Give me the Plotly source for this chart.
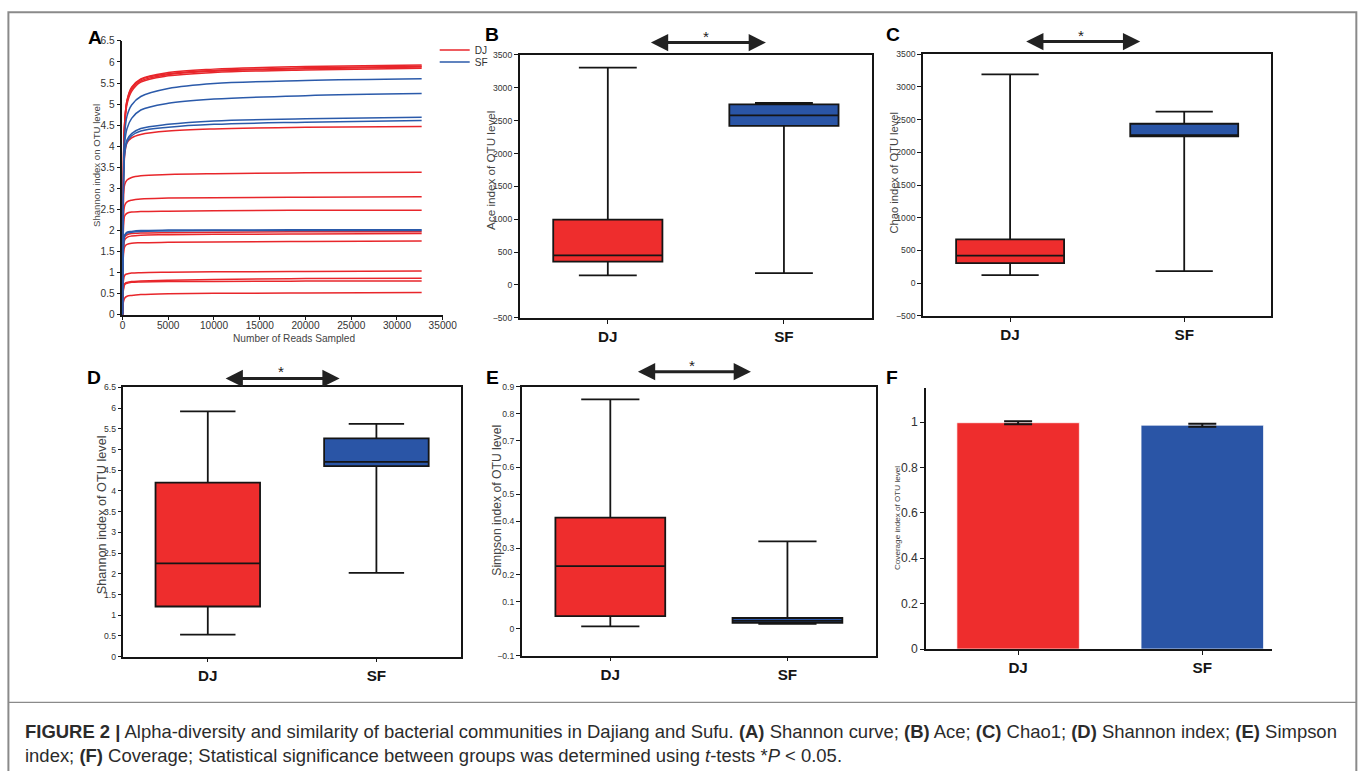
import plotly.graph_objects as go

# Layout canvas (slightly larger than the window; positions below are given in
# target-picture pixels and converted through px/py)
LW, LH = 1380, 790
SX, OX, SY, OY = 0.987, 2.6, 0.9825, 5.2
K = 1.015  # font compensation

# ---------------- Data ----------------
# Panel A: Shannon rarefaction curves (values read at these read depths)
reads = [0, 100, 250, 500, 1000, 2000, 5000, 10000, 20000, 32700]
dj_curves = [
    [0, 3.60, 4.60, 5.10, 5.40, 5.60, 5.75, 5.83, 5.89, 5.93],
    [0, 3.60, 4.60, 5.08, 5.38, 5.58, 5.72, 5.80, 5.86, 5.90],
    [0, 3.50, 4.55, 5.05, 5.35, 5.55, 5.70, 5.78, 5.84, 5.88],
    [0, 3.50, 4.50, 5.00, 5.30, 5.52, 5.67, 5.75, 5.81, 5.85],
    [0, 3.00, 3.80, 4.08, 4.20, 4.28, 4.36, 4.41, 4.45, 4.47],
    [0, 2.60, 3.10, 3.20, 3.26, 3.30, 3.33, 3.35, 3.37, 3.38],
    [0, 2.20, 2.60, 2.68, 2.72, 2.75, 2.77, 2.78, 2.79, 2.80],
    [0, 2.00, 2.35, 2.41, 2.44, 2.45, 2.46, 2.47, 2.48, 2.48],
    [0, 1.60, 1.85, 1.90, 1.93, 1.94, 1.95, 1.96, 1.97, 1.97],
    [0, 1.50, 1.78, 1.84, 1.87, 1.89, 1.90, 1.91, 1.92, 1.93],
    [0, 1.40, 1.62, 1.67, 1.70, 1.71, 1.72, 1.73, 1.74, 1.75],
    [0, 0.80, 0.94, 0.97, 0.99, 1.00, 1.01, 1.02, 1.03, 1.04],
    [0, 0.60, 0.74, 0.77, 0.79, 0.80, 0.82, 0.84, 0.86, 0.87],
    [0, 0.60, 0.72, 0.75, 0.77, 0.78, 0.79, 0.79, 0.80, 0.80],
    [0, 0.30, 0.40, 0.44, 0.46, 0.48, 0.50, 0.51, 0.52, 0.53],
]
sf_curves = [
    [0, 3.20, 4.30, 4.72, 4.98, 5.18, 5.37, 5.49, 5.56, 5.60],
    [0, 3.10, 4.10, 4.42, 4.66, 4.86, 5.02, 5.12, 5.20, 5.25],
    [0, 3.00, 3.90, 4.15, 4.30, 4.42, 4.52, 4.60, 4.65, 4.69],
    [0, 3.00, 3.85, 4.10, 4.25, 4.36, 4.45, 4.52, 4.57, 4.61],
    [0, 1.60, 1.90, 1.96, 1.98, 2.00, 2.01, 2.01, 2.02, 2.02],
    [0, 1.60, 1.88, 1.94, 1.96, 1.98, 1.99, 2.00, 2.00, 2.00],
]

groups = ["DJ", "SF"]

# Panel B: Ace index box statistics [DJ, SF]
ace_min = [146, 181]
ace_q1 = [354, 2422]
ace_med = [450, 2580]
ace_q3 = [994, 2748]
ace_max = [3307, 2770]

# Panel C: Chao index
chao_min = [123, 185]
chao_q1 = [307, 2243]
chao_med = [420, 2262]
chao_q3 = [670, 2437]
chao_max = [3193, 2621]

# Panel D: Shannon index
shan_min = [0.53, 2.02]
shan_q1 = [1.21, 4.60]
shan_med = [2.25, 4.70]
shan_q3 = [4.20, 5.27]
shan_max = [5.92, 5.62]

# Panel E: Simpson index
simp_min = [0.009, 0.018]
simp_q1 = [0.047, 0.022]
simp_med = [0.233, 0.029]
simp_q3 = [0.413, 0.040]
simp_max = [0.853, 0.325]

# Panel F: Coverage
coverage = [0.997, 0.986]
coverage_err = [0.007, 0.007]

# ---------------- Style ----------------
RED = "#EE2D2D"
BLUE = "#2A55A6"
LINE_RED = "#E8262B"
LINE_BLUE = "#2B5AAA"
colors = [RED, BLUE]
FONT = "Liberation Sans, Arial, sans-serif"
NARROW = "Liberation Sans Narrow, Arial Narrow, Liberation Sans, Arial, sans-serif"


def px(x):
    return ((x - OX) / SX) / LW


def py(y):
    return 1 - ((y - OY) / SY) / LH


def fs(s):
    return round(s * K, 2)


fig = go.Figure()

# Panel A traces
for i, c in enumerate(dj_curves):
    fig.add_trace(go.Scatter(
        x=reads, y=c, mode="lines", line=dict(color=LINE_RED, width=1.5, shape="spline", smoothing=1.0),
        name="DJ", legendgroup="DJ", showlegend=(i == 0), legend="legend",
        xaxis="x", yaxis="y"))
for i, c in enumerate(sf_curves):
    fig.add_trace(go.Scatter(
        x=reads, y=c, mode="lines", line=dict(color=LINE_BLUE, width=1.5, shape="spline", smoothing=1.0),
        name="SF", legendgroup="SF", showlegend=(i == 0), legend="legend2",
        xaxis="x", yaxis="y"))


def add_boxes(mins, q1s, meds, q3s, maxs, xa, ya):
    for i, g in enumerate(groups):
        fig.add_trace(go.Box(
            x=[g], q1=[q1s[i]], median=[meds[i]], q3=[q3s[i]],
            lowerfence=[mins[i]], upperfence=[maxs[i]],
            fillcolor=colors[i], line=dict(color="#151515", width=1.8),
            width=0.62, whiskerwidth=0.53, boxpoints=False,
            showlegend=False, name=g, xaxis=xa, yaxis=ya))


add_boxes(ace_min, ace_q1, ace_med, ace_q3, ace_max, "x2", "y2")
add_boxes(chao_min, chao_q1, chao_med, chao_q3, chao_max, "x3", "y3")
add_boxes(shan_min, shan_q1, shan_med, shan_q3, shan_max, "x4", "y4")
add_boxes(simp_min, simp_q1, simp_med, simp_q3, simp_max, "x5", "y5")

fig.add_trace(go.Bar(
    x=groups, y=coverage, width=0.665,
    marker=dict(color=colors, line=dict(color="rgba(255,255,255,0.7)", width=1)),
    error_y=dict(type="data", array=coverage_err, color="#151515", thickness=2, width=14),
    showlegend=False, xaxis="x6", yaxis="y6"))

# ---------------- Axes ----------------
base = dict(showline=True, linecolor="#151515", linewidth=1.6, ticks="outside", ticklen=4,
            tickwidth=1.2, tickcolor="#151515", showgrid=False, zeroline=False)
small_tick = dict(family=NARROW, size=fs(8.5), color="#333")
cat_tick = dict(family=FONT, size=fs(15), color="#151515", weight="bold")

layout_axes = dict(
    xaxis=dict(base, domain=[px(122), px(442)], range=[0, 35000], dtick=5000, tick0=0, ticklen=3,
               ticklabelstandoff=-3, tickformat="d", anchor="y",
               tickfont=dict(family=FONT, size=fs(10), color="#333")),
    yaxis=dict(base, domain=[py(314.3), py(41)], range=[0, 6.5], dtick=0.5, anchor="x",
               tickfont=dict(family=FONT, size=fs(10), color="#333")),
    xaxis2=dict(base, domain=[px(519), px(871)], type="category", range=[-0.5, 1.5], mirror=True,
                anchor="y2", tickfont=cat_tick),
    yaxis2=dict(base, domain=[py(317.3), py(55)], range=[-500, 3500], dtick=500, mirror=True,
                anchor="x2", tickfont=small_tick),
    xaxis3=dict(base, domain=[px(922), px(1270)], type="category", range=[-0.5, 1.5], mirror=True,
                anchor="y3", tickfont=cat_tick),
    yaxis3=dict(base, domain=[py(315.3), py(54.3)], range=[-500, 3500], dtick=500, mirror=True,
                anchor="x3", tickfont=small_tick),
    xaxis4=dict(base, domain=[px(123), px(460)], type="category", range=[-0.5, 1.5], mirror=True,
                anchor="y4", tickfont=cat_tick),
    yaxis4=dict(base, domain=[py(655.3), py(386.7)], range=[0, 6.5], dtick=0.5, mirror=True,
                anchor="x4", tickfont=small_tick),
    xaxis5=dict(base, domain=[px(521), px(875)], type="category", range=[-0.5, 1.5], mirror=True,
                anchor="y5", tickfont=cat_tick),
    yaxis5=dict(base, domain=[py(654.3), py(386)], range=[-0.1, 0.9], dtick=0.1, mirror=True,
                anchor="x5", tickfont=small_tick),
    xaxis6=dict(base, domain=[px(925), px(1271)], type="category", range=[-0.5, 1.38],
                anchor="y6", tickfont=cat_tick),
    yaxis6=dict(base, domain=[py(647.7), py(387.3)], range=[0, 1.15], dtick=0.2, anchor="x6",
                tickfont=dict(family=FONT, size=fs(12), color="#333")),
)

annotations = []

# Panel letters
for letter, (lx, ly) in {"A": (94.5, 37.5), "B": (491.5, 35), "C": (891.5, 35),
                         "D": (93.5, 376.5), "E": (491.5, 376.5), "F": (891, 376.5)}.items():
    annotations.append(dict(text=f"<b>{letter}</b>", x=px(lx), y=py(ly), xref="paper", yref="paper",
                            showarrow=False, xanchor="center", yanchor="middle",
                            font=dict(family=FONT, size=fs(19), color="#000")))

# Axis titles
ytitles = [
    ("Shannon index on OTU level", 96.7, 165.7, 9.5),
    ("Ace index of OTU level", 489, 170, 11.5),
    ("Chao index of OTU level", 893.3, 172, 11),
    ("Shannon index of OTU level", 101.7, 514, 12.5),
    ("Simpson index of OTU level", 496, 499, 12),
    ("Coverage index of OTU level", 896, 517, 8),
]
for t, tx, ty, s in ytitles:
    annotations.append(dict(text=t, x=px(tx), y=py(ty), xref="paper", yref="paper", showarrow=False,
                            textangle=-90, xanchor="center", yanchor="middle",
                            font=dict(family=FONT, size=fs(s), color="#444")))
annotations.append(dict(text="Number of Reads Sampled", x=px(293.3), y=py(338), xref="paper", yref="paper",
                        showarrow=False, xanchor="center", yanchor="middle",
                        font=dict(family=FONT, size=fs(10), color="#444")))

# Significance arrows and asterisks
for (x0, x1, ay_, sx, sy) in [(650, 765, 42.7, 705, 33), (1025, 1139, 41.7, 1080, 31.7),
                              (225, 339, 377.7, 280, 367), (637, 750, 371, 691, 361)]:
    annotations.append(dict(text="", x=px(x1), y=py(ay_), xref="paper", yref="paper",
                            ax=-(x1 - x0) / SX, ay=0, showarrow=True, arrowhead=2, startarrowhead=2,
                            arrowside="end+start", arrowwidth=3, arrowsize=1.15, startarrowsize=1.15,
                            arrowcolor="#222"))
    annotations.append(dict(text="*", x=px(sx), y=py(sy + 4), xref="paper", yref="paper",
                            showarrow=False, xanchor="center", yanchor="middle",
                            font=dict(family=FONT, size=fs(15), color="#222")))

# Caption
cap1 = ("<b>FIGURE 2 |</b> Alpha-diversity and similarity of bacterial communities in Dajiang and Sufu. "
        "<b>(A)</b> Shannon curve; <b>(B)</b> Ace; <b>(C)</b> Chao1; <b>(D)</b> Shannon index; <b>(E)</b> Simpson")
cap2 = ("index; <b>(F)</b> Coverage; Statistical significance between groups was determined using "
        "<i>t</i>-tests *<i>P</i> &lt; 0.05.")
for t, cy in [(cap1, 730), (cap2, 754)]:
    annotations.append(dict(text=t, x=px(23), y=py(cy), xref="paper", yref="paper", showarrow=False,
                            xanchor="left", yanchor="middle", align="left",
                            font=dict(family=FONT, size=fs(18.2), color="#2b2b2b")))

shapes = [
    # outer frame (open at the bottom of the window)
    dict(type="rect", xref="paper", yref="paper", x0=px(8), x1=px(1355), y0=py(12.5), y1=-0.2,
         line=dict(color="#8a8a8a", width=2), fillcolor="rgba(0,0,0,0)", layer="below"),
    # separator between figure panels and caption
    dict(type="line", xref="paper", yref="paper", x0=px(8), x1=px(1355), y0=py(701), y1=py(701),
         line=dict(color="#8a8a8a", width=1.2)),
]

fig.update_layout(
    width=LW, height=LH, margin=dict(l=0, r=0, t=0, b=0),
    paper_bgcolor="white", plot_bgcolor="rgba(0,0,0,0)",
    font=dict(family=FONT, color="#333"),
    boxmode="overlay",
    legend=dict(x=px(434), y=py(50), xanchor="left", yanchor="middle", bgcolor="rgba(0,0,0,0)",
                font=dict(family=FONT, size=fs(10), color="#333"), itemwidth=30),
    legend2=dict(x=px(434), y=py(62), xanchor="left", yanchor="middle", bgcolor="rgba(0,0,0,0)",
                 font=dict(family=FONT, size=fs(10), color="#333"), itemwidth=30),
    annotations=annotations, shapes=shapes,
    **layout_axes,
)

post = ("document.documentElement.style.margin='0';document.body.style.margin='0';"
        "document.documentElement.style.overflow='hidden';document.body.style.overflow='hidden';")

fig.write_html("out.html", config={"displayModeBar": False}, post_script=post)
